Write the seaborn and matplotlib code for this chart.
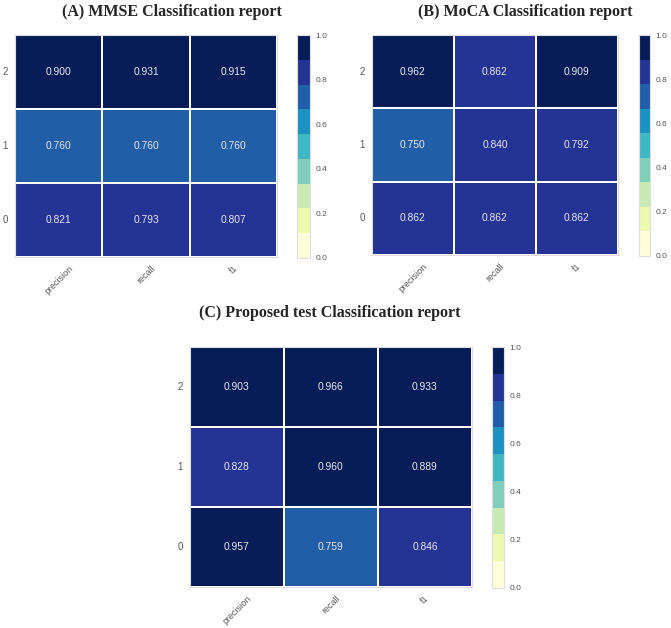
import matplotlib
matplotlib.use("Agg")
import matplotlib.pyplot as plt
import numpy as np
import pandas as pd
import seaborn as sns
from matplotlib.colors import ListedColormap

# Classification report values, rows are classes 0, 1, 2
metrics = ["precision", "recall", "f1"]
classes = ["0", "1", "2"]

mmse_precision = [0.821, 0.760, 0.900]
mmse_recall = [0.793, 0.760, 0.931]
mmse_f1 = [0.807, 0.760, 0.915]

moca_precision = [0.862, 0.750, 0.962]
moca_recall = [0.862, 0.840, 0.862]
moca_f1 = [0.862, 0.792, 0.909]

proposed_precision = [0.957, 0.828, 0.903]
proposed_recall = [0.759, 0.960, 0.966]
proposed_f1 = [0.846, 0.889, 0.933]

titles = [
    "(A) MMSE Classification report",
    "(B) MoCA Classification report",
    "(C) Proposed test Classification report",
]

W, H = 671, 628


def px_rect(x0, y0, x1, y1):
    """Convert pixel box (top-left origin) to figure fraction rect."""
    return [x0 / W, 1 - y1 / H, (x1 - x0) / W, (y1 - y0) / H]


def make_frame(precision, recall, f1):
    df = pd.DataFrame({"precision": precision, "recall": recall, "f1": f1}, index=classes)
    # class 2 on top
    return df.iloc[::-1][metrics]


def draw_report(fig, df, heat_box, cbar_box, title, title_xy, cmap):
    ax = fig.add_axes(px_rect(*heat_box))
    cax = fig.add_axes(px_rect(*cbar_box))
    sns.heatmap(
        df,
        ax=ax,
        cbar_ax=cax,
        cmap=cmap,
        vmin=0.0,
        vmax=1.0,
        annot=True,
        fmt=".3f",
        annot_kws={"fontsize": 7.4, "color": "#e6e6ee", "family": "Liberation Sans"},
        linewidths=1.2,
        linecolor="white",
        cbar_kws={"ticks": [0.0, 0.2, 0.4, 0.6, 0.8, 1.0], "format": "%.1f"},
    )
    ax.set_xlabel("")
    ax.set_ylabel("")
    ax.set_xticklabels(ax.get_xticklabels(), rotation=45, ha="center",
                       fontsize=6.5, color="#555555", family="Liberation Sans")
    ax.set_yticklabels(ax.get_yticklabels(), rotation=0, fontsize=7,
                       color="#555555", family="Liberation Sans")
    ax.tick_params(length=0, pad=5)
    for s in ax.spines.values():
        s.set_visible(True)
        s.set_color("#dddddd")
        s.set_linewidth(0.8)
    cax.tick_params(length=0, labelsize=6, labelcolor="#555555", pad=4)
    for lab in cax.get_yticklabels():
        lab.set_family("Liberation Sans")
    cbar = ax.collections[0].colorbar
    cbar.outline.set_edgecolor("#dddddd")
    cbar.outline.set_linewidth(0.8)
    fig.text(title_xy[0] / W, 1 - title_xy[1] / H, title, ha="center", va="center",
             fontsize=11.5, fontweight="bold", family="Liberation Serif")


def main():
    sns.set_style("whitegrid")
    cmap = ListedColormap(plt.get_cmap("YlGnBu", 9)(np.arange(9)))

    fig = plt.figure(figsize=(W / 100, H / 100), dpi=100)

    draw_report(fig, make_frame(mmse_precision, mmse_recall, mmse_f1),
                (15, 35, 277, 257), (297, 35, 310, 258), titles[0], (172, 12), cmap)
    draw_report(fig, make_frame(moca_precision, moca_recall, moca_f1),
                (372, 35, 618, 255), (639, 35, 650, 256), titles[1], (525, 12), cmap)
    draw_report(fig, make_frame(proposed_precision, proposed_recall, proposed_f1),
                (190, 347, 472, 587), (492, 347, 504, 588), titles[2], (330, 313), cmap)

    fig.savefig("out.png", dpi=100, facecolor="white")
    plt.close(fig)


if __name__ == "__main__":
    main()
